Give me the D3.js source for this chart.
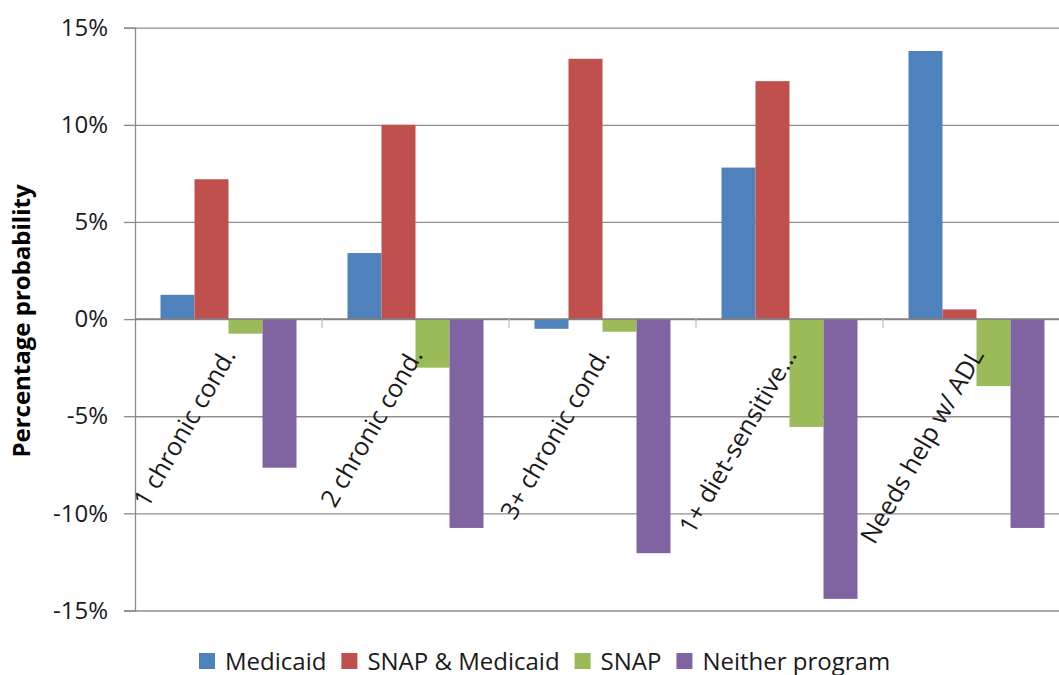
<!DOCTYPE html>
<html><head><meta charset="utf-8">
<script src="https://cdn.jsdelivr.net/npm/d3@7"></script>
<style>body{margin:0;background:#fff} svg{display:block} text{font-family:"Open Sans",sans-serif}</style>
</head><body>
<svg id="chart" width="1059" height="675"></svg>
<script>
const categories = ["1 chronic cond.", "2 chronic cond.", "3+ chronic cond.", "1+ diet-sensitive…", "Needs help w/ ADL"];
const seriesNames = ["Medicaid", "SNAP & Medicaid", "SNAP", "Neither program"];
const medicaid = [1.25, 3.4, -0.5, 7.8, 13.8];
const snapMedicaid = [7.2, 10.0, 13.4, 12.25, 0.5];
const snap = [-0.75, -2.5, -0.65, -5.55, -3.45];
const neither = [-7.65, -10.75, -12.05, -14.4, -10.75];
const yTicks = [-15, -10, -5, 0, 5, 10, 15];
const colors = ["#4F81BD", "#C0504D", "#9BBB59", "#8064A2"];

(function () {
const seriesValues = [medicaid, snapMedicaid, snap, neither];
const W = 1059;
const svg = d3.select("#chart");
const pLeft = 135, pRight = 1070, pTop = 27.7, pBottom = 610.5;
const y = d3.scaleLinear().domain([-15, 15]).range([pBottom, pTop]);
const x0 = d3.scaleBand().domain(categories).range([pLeft, pRight]).padding(0);
const x1 = d3.scaleBand().domain(seriesNames).range([0, x0.bandwidth()]).paddingInner(0).paddingOuter(0.75);
const color = d3.scaleOrdinal().domain(seriesNames).range(colors);

// gridlines
const grid = svg.append("g").attr("transform", `translate(${pLeft},0)`)
  .call(d3.axisLeft(y).tickValues(yTicks).tickSize(-(W - pLeft)).tickFormat(""));
grid.select(".domain").remove();
grid.selectAll("line").attr("stroke", "#8f8f8f").attr("stroke-width", 1.3);

// y axis with labels
const yAxis = svg.append("g").attr("transform", `translate(${pLeft},0)`)
  .call(d3.axisLeft(y).tickValues(yTicks).tickSize(11).tickPadding(16).tickFormat(d => d + "%"));
yAxis.select(".domain").attr("stroke", "#8a8a8a").attr("stroke-width", 1.3);
yAxis.selectAll(".tick line").attr("stroke", "#8a8a8a").attr("stroke-width", 1.3);
yAxis.selectAll("text").attr("font-size", 24).attr("fill", "#1a1a1a").attr("font-family", "'Open Sans', sans-serif");

// bars
const rows = categories.map((c, i) => ({cat: c, vals: seriesNames.map((s, j) => ({s, v: seriesValues[j][i]}))}));
svg.append("g").selectAll("g").data(rows).join("g")
  .attr("transform", d => `translate(${x0(d.cat)},0)`)
  .selectAll("rect").data(d => d.vals).join("rect")
  .attr("x", d => x1(d.s))
  .attr("width", x1.bandwidth())
  .attr("y", d => y(Math.max(0, d.v)))
  .attr("height", d => Math.abs(y(d.v) - y(0)))
  .attr("fill", d => color(d.s));

// category axis at zero
svg.append("line").attr("x1", pLeft).attr("x2", W).attr("y1", y(0)).attr("y2", y(0))
  .attr("stroke", "#7f7f7f").attr("stroke-width", 1.5);
svg.append("g").selectAll("line").data(categories.slice(1)).join("line")
  .attr("x1", d => x0(d)).attr("x2", d => x0(d))
  .attr("y1", y(0)).attr("y2", y(0) + 9)
  .attr("stroke", "#c4c4c4").attr("stroke-width", 1.3);
svg.append("g").selectAll("text").data(categories).join("text")
  .attr("transform", d => `translate(${x0(d) + x0.bandwidth() / 2 + 8},355) rotate(-60)`)
  .attr("text-anchor", "end")
  .attr("font-size", 25).attr("fill", "#1a1a1a")
  .text(d => d);

// y title
svg.append("text").attr("transform", `translate(30,321) rotate(-90)`)
  .attr("text-anchor", "middle").attr("font-size", 24).attr("font-weight", "bold").attr("fill", "#000")
  .text("Percentage probability");

// legend
const leg = svg.append("g");
let lx = 199;
seriesNames.forEach((s, i) => {
  leg.append("rect").attr("x", lx).attr("y", 653).attr("width", 16).attr("height", 16).attr("fill", colors[i]);
  const t = leg.append("text").attr("x", lx + 26).attr("y", 669.5).attr("font-size", 24).attr("fill", "#1a1a1a").text(s);
  lx += 26 + t.node().getComputedTextLength() + 15;
});
})();
</script>
</body></html>
